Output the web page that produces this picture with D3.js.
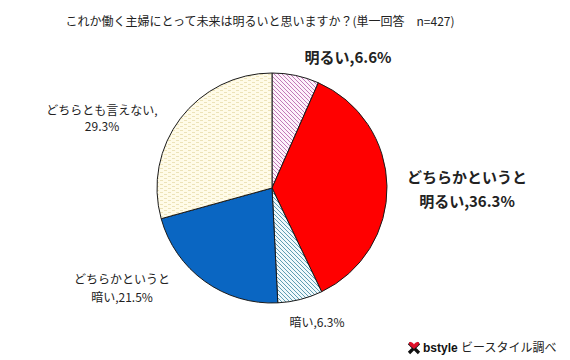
<!DOCTYPE html>
<html><head><meta charset="utf-8">
<script src="https://cdn.jsdelivr.net/npm/d3@7"></script>
<style>
html,body{margin:0;padding:0;background:#fff;}
svg{display:block;font-family:"Noto Sans CJK JP","Noto Sans",sans-serif;}
</style></head>
<body>
<svg id="c" width="570" height="360"></svg>
<script>
const title = "これか働く主婦にとって未来は明るいと思いますか？(単一回答　n=427)";
const categories = ["明るい", "どちらかというと明るい", "暗い", "どちらかというと暗い", "どちらとも言えない"];
const values = [6.6, 36.3, 6.3, 21.5, 29.3];
const labelLines = [
  ["明るい,6.6%"],
  ["どちらかというと", "明るい,36.3%"],
  ["暗い,6.3%"],
  ["どちらかというと", "暗い,21.5%"],
  ["どちらとも言えない,", "29.3%"]
];
const fills = ["url(#pinkHatch)", "#ff0000", "url(#blueHatch)", "#0a66c2", "url(#creamDots)"];
const labelPos = [[348, 58], [467, 190], [317, 323], [122, 289], [102, 119]];
const labelStyle = [
  {size: 15, weight: "bold", lh: 24}, {size: 15, weight: "bold", lh: 24}, {size: 12, weight: "normal", lh: 18},
  {size: 12, weight: "normal", lh: 18}, {size: 12, weight: "normal", lh: 16.5}
];

const svg = d3.select("#c");
const defs = svg.append("defs");

function hatch(id, bg, stroke) {
  const p = defs.append("pattern").attr("id", id).attr("patternUnits", "userSpaceOnUse")
    .attr("width", 4).attr("height", 4);
  p.append("rect").attr("width", 4).attr("height", 4).attr("fill", bg);
  p.append("path").attr("d", "M0,0L4,4M-1,3L1,5M3,-1L5,1")
    .attr("stroke", stroke).attr("stroke-width", 1);
}
hatch("pinkHatch", "#fdf2fb", "#c27ab8");
hatch("blueHatch", "#f0f9fc", "#5f9db3");
{
  const p = defs.append("pattern").attr("id", "creamDots").attr("patternUnits", "userSpaceOnUse")
    .attr("width", 8).attr("height", 4);
  p.append("rect").attr("width", 8).attr("height", 4).attr("fill", "#fffbe8");
  p.append("rect").attr("x", 0).attr("y", 0).attr("width", 3).attr("height", 1).attr("fill", "#ece2b8");
  p.append("rect").attr("x", 4).attr("y", 2).attr("width", 3).attr("height", 1).attr("fill", "#ece2b8");
}

// title
svg.append("text").attr("x", 260).attr("y", 26).attr("text-anchor", "middle")
  .attr("font-size", 12).attr("fill", "#222").text(title);

const cx = 272, cy = 188, r = 115;
const pie = d3.pie().sort(null).value(d => d)(values);
const arc = d3.arc().innerRadius(0).outerRadius(r);
const g = svg.append("g").attr("transform", `translate(${cx},${cy})`);
g.selectAll("path").data(pie).join("path")
  .attr("d", arc)
  .attr("fill", (d, i) => fills[i])
  .attr("stroke", "#1a1a1a").attr("stroke-width", 1);

// labels
const lg = svg.append("g");
labelLines.forEach((lines, i) => {
  const [x, y] = labelPos[i];
  const st = labelStyle[i];
  const lh = st.lh;
  const t = lg.append("text").attr("text-anchor", "middle")
    .attr("font-size", st.size).attr("font-weight", st.weight).attr("fill", "#222");
  const y0 = y - (lines.length - 1) * lh / 2;
  lines.forEach((ln, k) => {
    t.append("tspan").attr("x", x).attr("y", y0 + k * lh).attr("dy", "0.35em").text(ln);
  });
});

// logo
const logo = svg.append("g").attr("transform", "translate(414,348)");
logo.append("path").attr("d", "M-5,-5L5,5M5,-5L-5,5").attr("stroke", "#111").attr("stroke-width", 3.2);
logo.append("path").attr("d", "M0,-1.5C-1,-4 -5,-5 -5,-2.5C-5,-0.5 -2,1 0,3C2,1 5,-0.5 5,-2.5C5,-5 1,-4 0,-1.5Z")
  .attr("fill", "#e0102a").attr("transform", "translate(0,-2)");
svg.append("text").attr("x", 423).attr("y", 352).attr("font-size", 12).attr("font-weight", "bold")
  .attr("fill", "#111").attr("font-family", "Arial, 'Liberation Sans', sans-serif").text("bstyle");
svg.append("text").attr("x", 461).attr("y", 352).attr("font-size", 12)
  .attr("fill", "#222").text("ビースタイル調べ");
</script>
</body></html>
